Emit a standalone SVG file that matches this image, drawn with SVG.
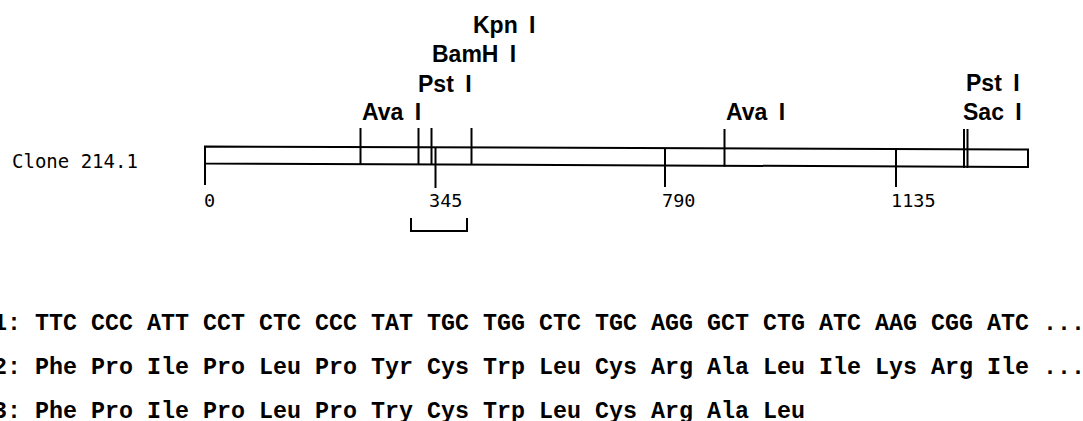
<svg xmlns="http://www.w3.org/2000/svg" width="1083" height="421" viewBox="0 0 1083 421">
  <style>
    .ln { stroke: #000; stroke-width: 2; fill: none; stroke-linecap: butt; }
    .site { font-family: "Liberation Sans", Arial, sans-serif; font-weight: bold; font-size: 23px; word-spacing: 5px; fill: #000; }
    .mono { font-family: "DejaVu Sans Mono", "Liberation Mono", monospace; font-size: 18.5px; fill: #000; }
    .seq { font-family: "Liberation Mono", "Courier New", monospace; font-weight: bold; font-size: 23.33px; fill: #000; white-space: pre; }
  </style>
  <rect width="1083" height="421" fill="#fff"/>

  <g id="clone-label">
    <text class="mono" x="12" y="168" style="font-size:19px">Clone 214.1</text>
  </g>

  <g id="map-bar">
    <polygon class="ln" points="205,146.5 1028,149.5 1028,167 205,163.5"/>
  </g>

  <g id="sites">
    <g id="site-ava1-left">
      <line class="ln" x1="360.5" y1="128" x2="360.5" y2="165"/>
      <text class="site" x="362" y="120">Ava I</text>
    </g>
    <g id="site-pst1-left">
      <line class="ln" x1="418.5" y1="128" x2="418.5" y2="165"/>
      <text class="site" x="418" y="92">Pst I</text>
    </g>
    <g id="site-bamh1">
      <line class="ln" x1="431.5" y1="128" x2="431.5" y2="165"/>
      <text class="site" x="432" y="62">BamH I</text>
    </g>
    <g id="site-kpn1">
      <line class="ln" x1="471.5" y1="128" x2="471.5" y2="165"/>
      <text class="site" x="473" y="33">Kpn I</text>
    </g>
    <g id="site-ava1-right">
      <line class="ln" x1="724.5" y1="129" x2="724.5" y2="166.5"/>
      <text class="site" x="726" y="120">Ava I</text>
    </g>
    <g id="site-pst1-sac1">
      <line class="ln" x1="964" y1="129" x2="964" y2="168"/>
      <line class="ln" x1="967.5" y1="129" x2="967.5" y2="168"/>
      <text class="site" x="966" y="91">Pst I</text>
      <text class="site" x="963" y="120">Sac I</text>
    </g>
  </g>

  <g id="scale">
    <line class="ln" x1="205" y1="146.5" x2="205" y2="185"/>
    <text class="mono" x="204" y="207">0</text>
    <line class="ln" x1="435.5" y1="147.5" x2="435.5" y2="188"/>
    <text class="mono" x="429" y="207">345</text>
    <line class="ln" x1="665" y1="148.3" x2="665" y2="187"/>
    <text class="mono" x="662" y="207">790</text>
    <line class="ln" x1="896" y1="149" x2="896" y2="187"/>
    <text class="mono" x="891" y="207">1135</text>
  </g>

  <g id="bracket">
    <path class="ln" d="M411,218 V231 H467 V218"/>
  </g>

  <g id="seq-row1">
    <text class="seq" x="-7" y="330">1: TTC CCC ATT CCT CTC CCC TAT TGC TGG CTC TGC AGG GCT CTG ATC AAG CGG ATC ...</text>
  </g>
  <g id="seq-row2">
    <text class="seq" x="-7" y="374">2: Phe Pro Ile Pro Leu Pro Tyr Cys Trp Leu Cys Arg Ala Leu Ile Lys Arg Ile ...</text>
  </g>
  <g id="seq-row3">
    <text class="seq" x="-7" y="418">3: Phe Pro Ile Pro Leu Pro Try Cys Trp Leu Cys Arg Ala Leu</text>
  </g>
</svg>
